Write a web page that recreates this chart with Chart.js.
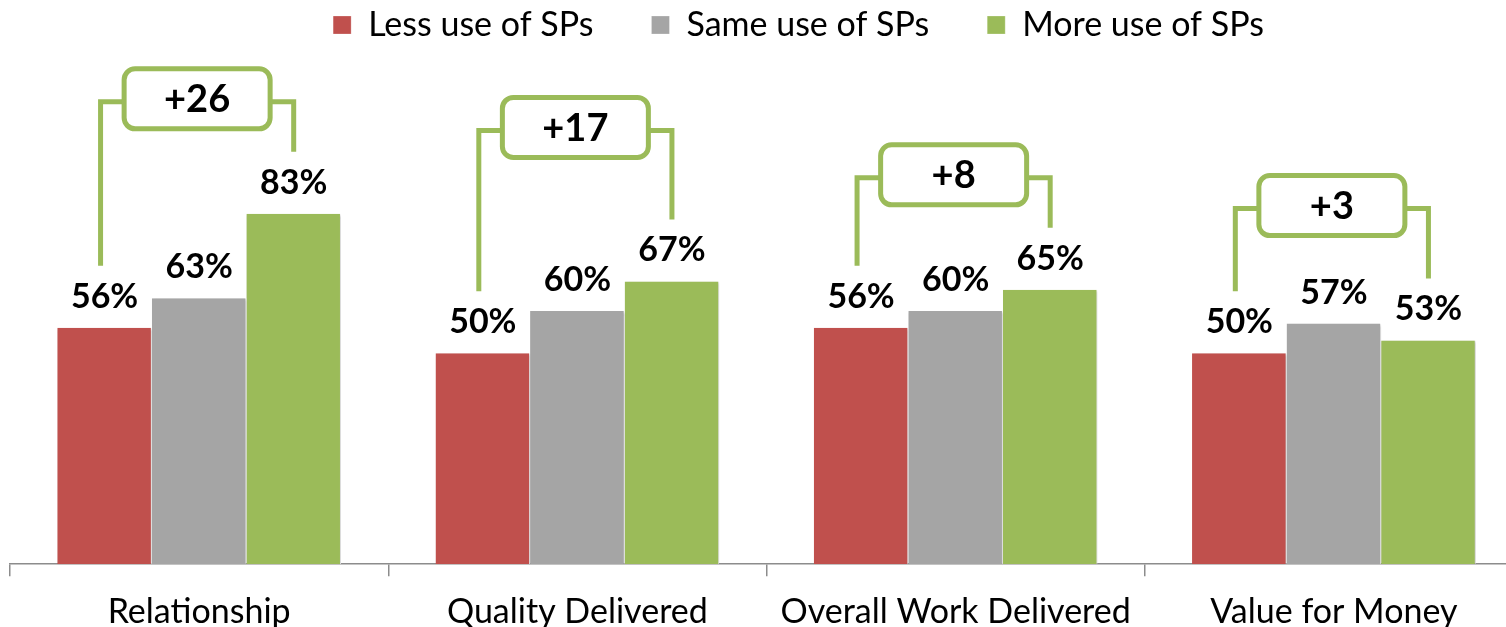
<!DOCTYPE html>
<html>
<head>
<meta charset="utf-8">
<script src="https://cdn.jsdelivr.net/npm/chart.js@4.4.0/dist/chart.umd.min.js"></script>
<style>
  html, body { margin: 0; padding: 0; background: #fff; overflow: hidden; }
  #wrap { width: 1540px; height: 657px; position: relative; }
</style>
</head>
<body>
<div id="wrap"><canvas id="spChart"></canvas></div>
<script>
// === DATA ===
const categories = ["Relationship", "Quality Delivered", "Overall Work Delivered", "Value for Money"];
const seriesNames = ["Less use of SPs", "Same use of SPs", "More use of SPs"];
const lessUse = [56, 50, 56, 50];
const sameUse = [63, 60, 60, 57];
const moreUse = [83, 67, 65, 53];
// gap "more" vs "less" as printed in the boxes (from unrounded figures)
const gapLabels = ["+26", "+17", "+8", "+3"];

const COLORS = ["#C0504D", "#A5A5A5", "#9BBB59"];
const FONT = "Lato, 'Open Sans', sans-serif";
const LEGEND_PAD = 58;

// bar shadow
const barShadow = {
  id: "barShadow",
  beforeDatasetsDraw(chart) {
    const c = chart.ctx;
    c.save();
    c.shadowColor = "rgba(0,0,0,0.25)";
    c.shadowBlur = 3;
    c.shadowOffsetX = 1;
    c.shadowOffsetY = 1;
  },
  afterDatasetsDraw(chart) {
    chart.ctx.restore();
  }
};

// percent labels on top of the bars
const valueLabels = {
  id: "valueLabels",
  afterDatasetsDraw(chart) {
    const c = chart.ctx;
    c.save();
    c.font = "bold 34px " + FONT;
    c.fillStyle = "#000";
    c.textAlign = "center";
    c.textBaseline = "alphabetic";
    chart.data.datasets.forEach((ds, i) => {
      chart.getDatasetMeta(i).data.forEach((bar, j) => {
        c.fillText(ds.data[j] + "%", bar.x, bar.y - 20);
      });
    });
    c.restore();
  }
};

// green brackets between "less" and "more" bars
const diffBrackets = {
  id: "diffBrackets",
  afterDraw(chart, args, opts) {
    const c = chart.ctx;
    const less = chart.getDatasetMeta(0).data;
    const more = chart.getDatasetMeta(2).data;
    c.save();
    c.strokeStyle = COLORS[2];
    c.lineWidth = 5;
    c.lineJoin = "miter";
    categories.forEach((cat, i) => {
      const top = Math.min(...chart.data.datasets.map((ds, k) => chart.getDatasetMeta(k).data[i].y));
      const hy = top - 112 - (opts.lift[i] || 0);
      const xl = less[i].x - 4;
      const xr = more[i].x;
      c.beginPath();
      c.moveTo(xl, less[i].y - 62);
      c.lineTo(xl, hy);
      c.lineTo(xr, hy);
      c.lineTo(xr, more[i].y - 62);
      c.stroke();

      const bw = 146, bh = 60;
      const bx = (xl + xr) / 2 - bw / 2;
      const by = hy - 3 - bh / 2;
      c.beginPath();
      c.roundRect(bx, by, bw, bh, 11);
      c.fillStyle = "#fff";
      c.fill();
      c.stroke();

      c.fillStyle = "#000";
      c.font = "bold 38px " + FONT;
      c.textAlign = "center";
      c.textBaseline = "middle";
      c.fillText(gapLabels[i], bx + bw / 2, by + bh / 2 + 1);
    });
    c.restore();
  }
};

// legend: pulled up (the wide item padding also pads it vertically) and
// nudged right of centre like the original
const legendShift = {
  id: "legendShift",
  afterLayout(chart) {
    const lg = chart.legend;
    lg.left += 32;
    lg.right += 32;
    lg.top -= LEGEND_PAD - 8;
    lg.bottom -= LEGEND_PAD - 8;
  }
};

new Chart(document.getElementById("spChart"), {
  type: "bar",
  data: {
    labels: categories,
    datasets: [
      { label: seriesNames[0], data: lessUse, backgroundColor: COLORS[0] },
      { label: seriesNames[1], data: sameUse, backgroundColor: COLORS[1] },
      { label: seriesNames[2], data: moreUse, backgroundColor: COLORS[2] }
    ]
  },
  options: {
    responsive: true,
    maintainAspectRatio: false,
    animation: false,
    datasets: {
      bar: {
        categoryPercentage: 0.75,
        barPercentage: 1.0,
        borderColor: "#fff",
        borderWidth: { right: 1, left: 0, top: 0, bottom: 0 },
        borderSkipped: false
      }
    },
    layout: { padding: { left: 10, right: 17, top: 0, bottom: 10 } },
    plugins: {
      legend: {
        position: "top",
        labels: {
          boxWidth: 18,
          boxHeight: 18,
          padding: LEGEND_PAD,
          color: "#000",
          font: { family: FONT, size: 34 }
        }
      },
      tooltip: { enabled: false },
      diffBrackets: { lift: [0, 39, 0, 3] }
    },
    scales: {
      x: {
        grid: {
          drawOnChartArea: false,
          drawTicks: true,
          tickLength: 12,
          color: "#8c8c8c",
          lineWidth: 1.5
        },
        border: { display: true, color: "#8c8c8c", width: 1.5 },
        ticks: {
          color: "#000",
          padding: 15,
          font: { family: FONT, size: 34 }
        }
      },
      y: {
        display: false,
        min: 0,
        max: 109.5
      }
    }
  },
  plugins: [barShadow, valueLabels, diffBrackets, legendShift]
});
</script>
</body>
</html>
